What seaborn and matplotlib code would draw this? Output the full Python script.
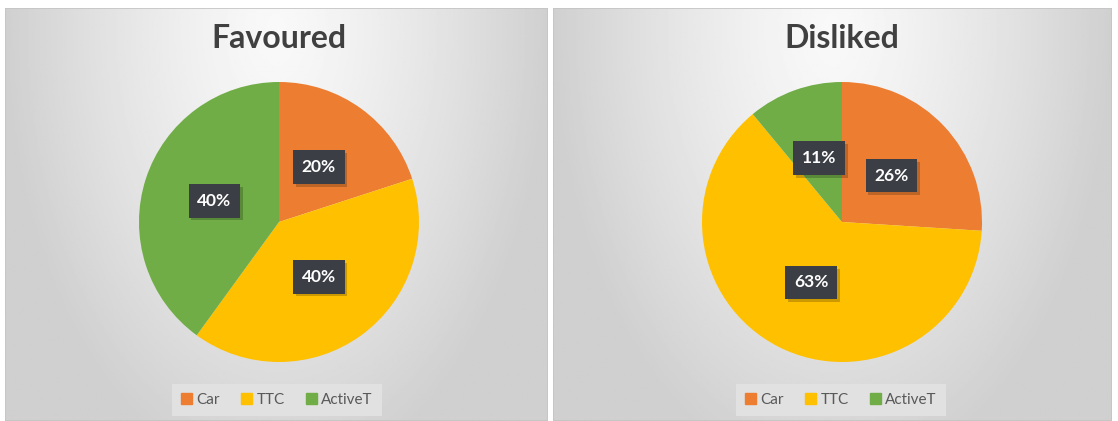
import numpy as np
import matplotlib
matplotlib.use("Agg")
import matplotlib.pyplot as plt
import matplotlib.patches as mpatches
import matplotlib.patheffects as pe
import seaborn as sns

# ---- data ----
categories = ["Car", "TTC", "ActiveT"]
favoured = [20, 40, 40]
disliked = [26, 63, 11]
favoured_labels = ["20%", "40%", "40%"]
disliked_labels = ["26%", "63%", "11%"]
titles = ["Favoured", "Disliked"]

sns.set_theme(style="white")
plt.rcParams["font.family"] = ["Lato", "DejaVu Sans"]
colors = ["#ED7D31", "#FFC000", "#70AD47"]

W, H = 1118, 421
fig = plt.figure(figsize=(W / 100, H / 100), dpi=100)
fig.patch.set_facecolor("white")

def px_axes(x0, y0, w, h, **kw):
    return fig.add_axes([x0 / W, 1 - (y0 + h) / H, w / W, h / H], **kw)

# panels: (left, right, pie center x)
panels = [(5, 548, 279), (553, 1112, 842)]
legend_cx = [277, 841]
pie_cy = 222
R = 140

for i, (pl, pr, cx) in enumerate(panels):
    # gradient background
    bg = px_axes(pl, 8, pr - pl, H - 8)
    bg.set_axis_off()
    nx, ny = 300, 240
    xx, yy = np.meshgrid(np.linspace(-1, 1, nx), np.linspace(0, 1, ny))
    d = np.sqrt((xx / 1.0) ** 2 + ((yy - 0.05) / 1.1) ** 2)
    d = np.clip(d, 0, 1)
    val = 0.975 - 0.16 * d ** 1.3
    bg.imshow(val, cmap="gray", vmin=0, vmax=1, aspect="auto",
              extent=[0, 1, 1, 0], interpolation="bilinear")
    bg.add_patch(mpatches.Rectangle((0, 0), 1, 1, transform=bg.transAxes,
                                    fill=False, edgecolor="#c4c4c4", lw=1.2))

    # title
    fig.text(cx / W, 1 - 38 / H, titles[i], ha="center", va="center",
             fontsize=23, fontweight="bold", color="#404040")

    # pie
    ax = px_axes(cx - R, pie_cy - R, 2 * R, 2 * R)
    vals = favoured if i == 0 else disliked
    labs = favoured_labels if i == 0 else disliked_labels
    wedges, _ = ax.pie(vals, colors=colors, startangle=90, counterclock=False,
                       radius=1.0, wedgeprops=dict(linewidth=0))
    ax.set_xlim(-1.0, 1.0)
    ax.set_ylim(-1.0, 1.0)
    ax.set_aspect("equal")
    ax.set_axis_off()
    total = sum(vals)
    start = 90.0
    for v, lab in zip(vals, labs):
        ang = start - 360.0 * v / total / 2
        start -= 360.0 * v / total
        r = 0.485
        tx, ty = r * np.cos(np.radians(ang)), r * np.sin(np.radians(ang))
        t = ax.text(tx, ty, lab, ha="center", va="center", fontsize=12.5,
                    fontweight="bold", color="white",
                    bbox=dict(boxstyle="square,pad=0.5", fc="#3b3e45", ec="none"))
        t.get_bbox_patch().set_path_effects(
            [pe.SimplePatchShadow(offset=(2, -2), shadow_rgbFace="black", alpha=0.2),
             pe.Normal()])

    # legend
    handles = [mpatches.Patch(color=c, label=l) for c, l in zip(colors, categories)]
    leg = fig.legend(handles=handles, loc="center", ncol=3,
                     bbox_to_anchor=(legend_cx[i] / W, 1 - 400 / H),
                     frameon=True, fontsize=11, handlelength=0.7, handleheight=0.7,
                     handletextpad=0.3, columnspacing=1.4, borderpad=0.6,
                     fancybox=False, labelcolor="#595959")
    leg.get_frame().set_facecolor("#e1e1e1")
    leg.get_frame().set_edgecolor("none")
    leg.get_frame().set_alpha(1)

fig.savefig("out.png", dpi=100, facecolor="white")
